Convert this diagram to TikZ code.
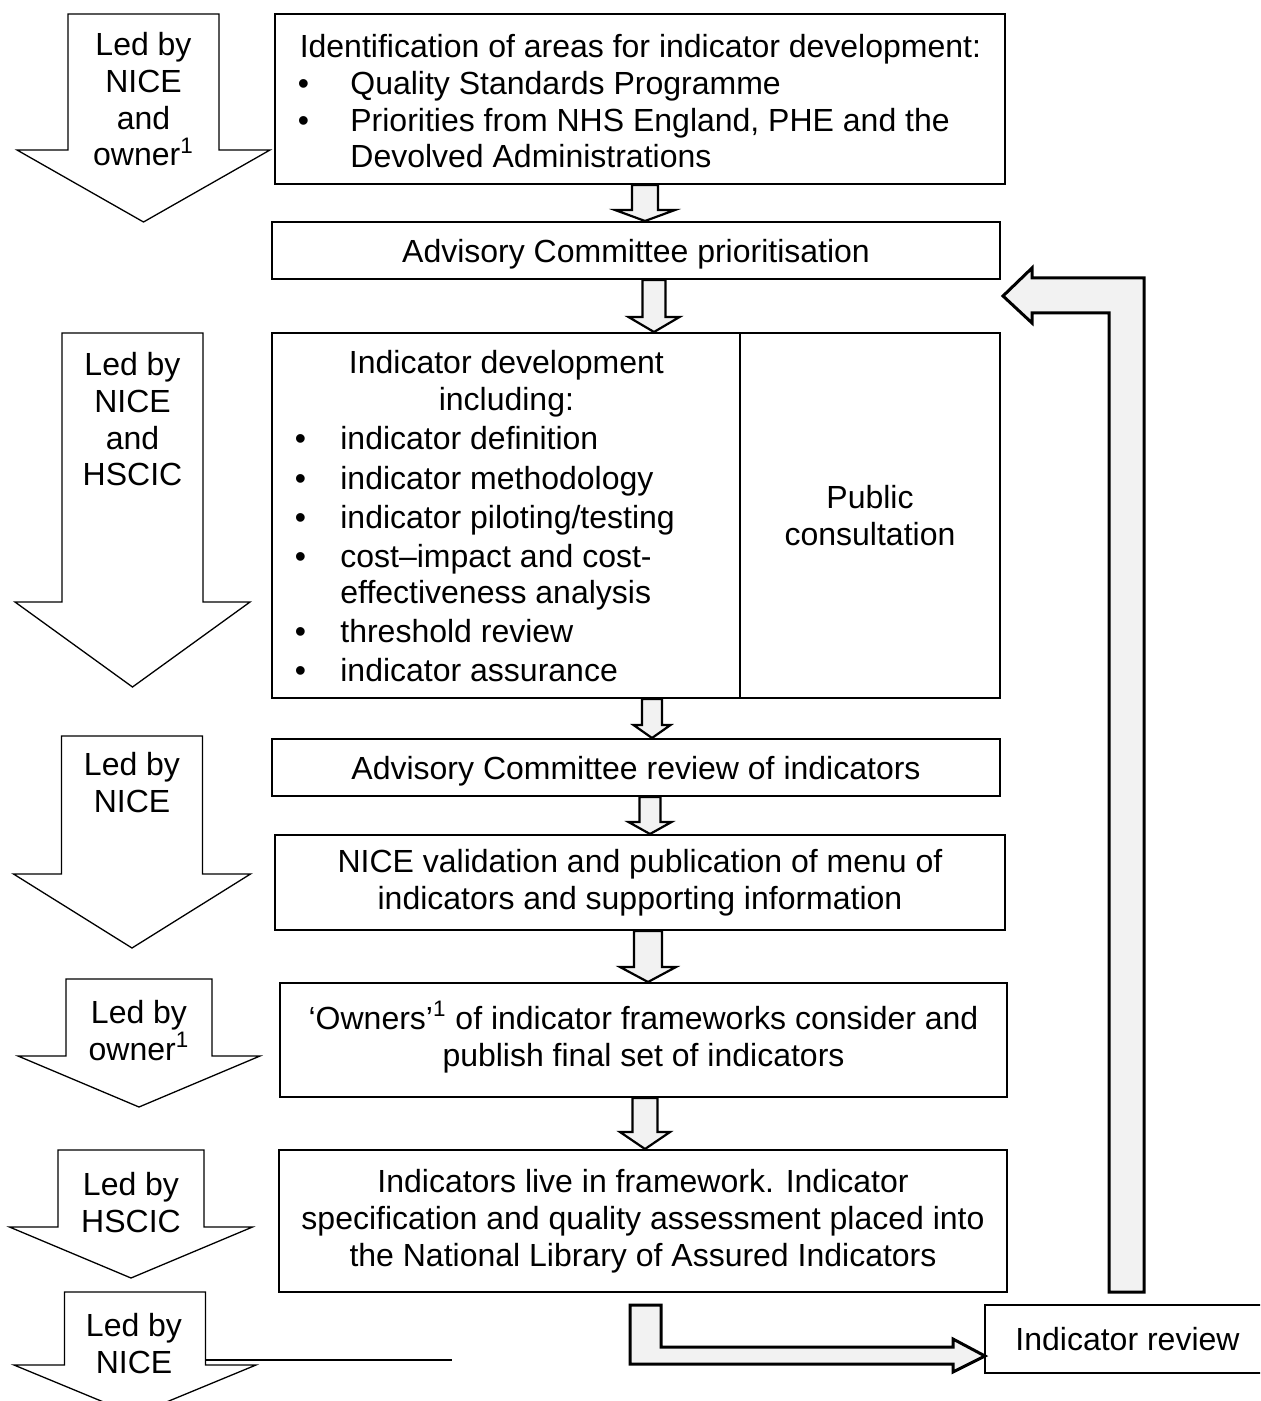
\documentclass[tikz,border=0pt]{standalone}
\usepackage{fontspec}
\setmainfont{Liberation Sans}
\usepackage{tikz}
\usetikzlibrary{calc}
\definecolor{arrowgray}{HTML}{F2F2F2}
\newcommand{\fs}{\fontsize{16pt}{18.4pt}\selectfont}
%bullet lines of the two lists
\newcommand{\itemA}[1]{\makebox[37.5pt][l]{\hspace{11.25pt}\textbullet}#1}
\newcommand{\itemB}[1]{\makebox[34pt][l]{\hspace{11.25pt}\textbullet}#1}
%led-by arrow: centre x, half shaft, half head, top, shoulder, tip
\newcommand{\ledby}[6]{\draw[ledarrow] (#1-#2,#4) -- (#1+#2,#4) -- (#1+#2,#5) -- (#1+#3,#5) -- (#1,#6) -- (#1-#3,#5) -- (#1-#2,#5) -- cycle;}
%small arrow between boxes: from, to, tip x, half shaft, half head, head depth
\newcommand{\stepdown}[6]{%
  \path (#3,0) coordinate (tx) (#2.north -| tx) coordinate (tp);
  \draw[blockarrow] (tp) -- ++(-#5,-#6) -- ++(#5-#4,0) coordinate (sl)
    -- (sl |- #1.south) -- ++(2*#4,0) coordinate (sr)
    -- (sr |- sl) -- ++(#5-#4,0) -- cycle;}

\begin{document}
\begin{tikzpicture}
    [x=0.5pt,y=-0.5pt,
     stage/.style={draw,line width=1pt,inner sep=0pt,font=\fs,align=center},
     oneline/.style={stage,text depth=0pt},
     txt/.style={inner sep=0pt,font=\fs,align=center},
     ledarrow/.style={draw,fill=white,line width=0.65pt},
     blockarrow/.style={draw,fill=arrowgray,line width=1.1pt},
     backarrow/.style={draw,fill=arrowgray,line width=1.5pt}]
\useasboundingbox (0,0) rectangle (1260,1401);
\clip (0,0) rectangle (1260,1401);
%left column: who leads each step
\ledby{143.5}{75.5}{126.5}{14}{150}{222}
\ledby{132.5}{70.5}{117.5}{333}{602}{687}
\ledby{132}{70.5}{118.5}{736}{874}{948}
\ledby{139}{73}{121}{979}{1056}{1107}
\ledby{131}{73}{121.5}{1150}{1227}{1278}
\ledby{135}{70.5}{121}{1292}{1365}{1415}
\node[txt,anchor=north] (l1) at (143.5,32) {Led by\\NICE\\and\\owner\textsuperscript{1}};
\node[txt,anchor=north] (l2) at (132.5,352) {Led by\\NICE\\and\\HSCIC};
\node[txt,anchor=north] (l3) at (132,752) {Led by\\NICE};
\node[txt,anchor=north] (l4) at (139,1000) {Led by\\owner\textsuperscript{1}};
\node[txt,anchor=north] (l5) at (131,1172) {Led by\\HSCIC};
\node[txt,anchor=north] (l6) at (134,1313) {Led by\\NICE};
\coordinate (s1) at (205,1360);
\coordinate (s2) at (452,1360);
\draw[line width=1pt] (s1) -- (s2);

%main boxes
\node[stage,minimum width=365pt,minimum height=85pt] (b1) at (640,99) {};
\node[oneline,minimum width=364pt,minimum height=28.5pt] (b2) at (636,250.5) {Advisory Committee prioritisation};
\node[stage,minimum width=234pt,minimum height=182.5pt] (b3a) at (506,515.5) {};
\node[stage,minimum width=130pt,minimum height=182.5pt] (b3b) at (870,515.5) {Public\\consultation};
\node[oneline,minimum width=364pt,minimum height=28.5pt] (b4) at (636,767.5) {Advisory Committee review of indicators};
\node[stage,minimum width=365pt,minimum height=47.5pt] (b5) at (640,882.5) {NICE validation and publication of menu of\\indicators and supporting information};
\node[stage,minimum width=363.5pt,minimum height=57pt] (b6) at (643.5,1040) {};
\node[stage,minimum width=364pt,minimum height=71pt] (b7) at (643,1221) {Indicators live in framework. Indicator\\specification and quality assessment placed into\\the National Library of Assured Indicators};
\node[oneline,minimum width=142.5pt,minimum height=34pt] (b8) at (1127.5,1339) {Indicator review};

\node[txt,anchor=north west,align=left] (t1) at (275,34) {\makebox[365pt][c]{Identification of areas for indicator development:}\\
  \itemA{Quality Standards Programme}\\
  \itemA{Priorities from NHS England, PHE and the}\\
  \hspace*{37.5pt}Devolved Administrations};
\node[txt,anchor=north west,align=left] (t3) at (272,350) {\makebox[234pt][c]{Indicator development}\\
  \makebox[234pt][c]{including:}\\[1.1pt]
  \itemB{indicator definition}\\[1.5pt]
  \itemB{indicator methodology}\\[1.1pt]
  \itemB{indicator piloting/testing}\\[1.1pt]
  \itemB{cost–impact and cost-}\\
  \hspace*{34pt}effectiveness analysis\\[1.1pt]
  \itemB{threshold review}\\[1.1pt]
  \itemB{indicator assurance}};
\node[txt,anchor=north] (t6) at (643.5,1001) {‘Owners’\textsuperscript{1} of indicator frameworks consider and\\publish final set of indicators};

%arrows between the boxes
\stepdown{b1}{b2}{645}{13}{30}{11}
\stepdown{b2}{b3a}{654}{11.5}{25.5}{15}
\stepdown{b3a}{b4}{652}{10}{18.5}{13}
\stepdown{b4}{b5}{650}{10.5}{21.5}{12}
\stepdown{b5}{b6}{648}{14}{28}{15}
\stepdown{b6}{b7}{645}{12.5}{25}{17}

%review loop
\draw[backarrow] (630,1305) -- (661,1305) -- (661,1347) -- (953,1347) -- (953,1339) -- (985,1356) -- (953,1372) -- (953,1364) -- (630,1364) -- cycle;
\draw[backarrow] (1109,1292) -- (1109,313) -- (1032,313) -- (1032,323) -- (1003,296) -- (1032,268) -- (1032,278) -- (1144,278) -- (1144,1292) -- cycle;
\end{tikzpicture}
\end{document}
